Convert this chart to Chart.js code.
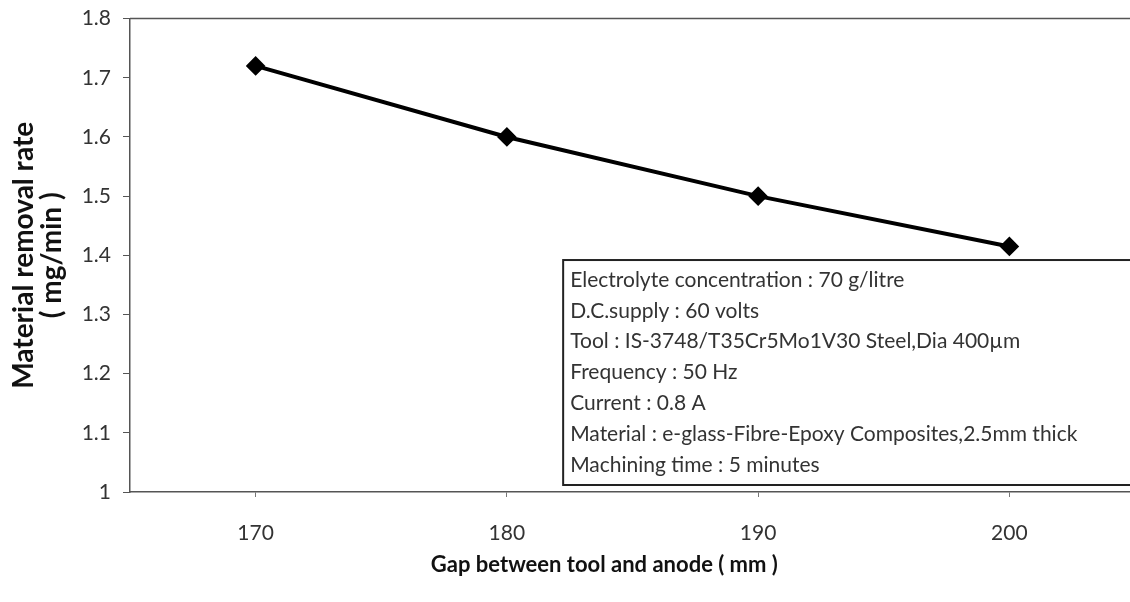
<!DOCTYPE html>
<html lang="en">
<head>
  <meta charset="UTF-8">
  <title>Material removal rate vs gap</title>
  <script src="https://cdn.jsdelivr.net/npm/chart.js"></script>
  <style>
    html, body { margin: 0; padding: 0; background: #fff; overflow: hidden; }
    #wrap { width: 1146px; height: 608px; margin-top: -6px; }
  </style>
</head>
<body>
  <div id="wrap"><canvas id="mrrChart"></canvas></div>
  <script>
    // values
    const gaps = ['170', '180', '190', '200'];
    const mrr = [1.72, 1.60, 1.50, 1.415];
    const yTicks = [1, 1.1, 1.2, 1.3, 1.4, 1.5, 1.6, 1.7, 1.8];
    const notes = [
      'Electrolyte concentration : 70 g/litre',
      'D.C.supply : 60 volts',
      'Tool : IS-3748/T35Cr5Mo1V30 Steel,Dia 400\u00b5m',
      'Frequency : 50 Hz',
      'Current : 0.8 A',
      'Material : e-glass-Fibre-Epoxy Composites,2.5mm thick',
      'Machining time : 5 minutes'
    ];
    const xTitle = 'Gap between tool and anode ( mm )';

    const FONT = 'Lato';

    // frame on top/right of the plot, conditions box, x title
    const extras = {
      id: 'extras',
      afterDraw(chart) {
        const { ctx, chartArea: a } = chart;
        const w = a.right - a.left;
        ctx.save();
        ctx.strokeStyle = '#555';
        ctx.lineWidth = 1.5;
        ctx.beginPath();
        ctx.moveTo(a.left, a.top);
        ctx.lineTo(a.right, a.top);
        ctx.lineTo(a.right, a.bottom);
        ctx.stroke();

        // conditions box
        const bx = a.left + w * 0.431;
        const by = a.top + (a.bottom - a.top) * 0.51;
        const bw = a.right - bx + 4;
        const bh = a.bottom - 7 - by;
        ctx.fillStyle = '#fff';
        ctx.fillRect(bx, by, bw, bh);
        ctx.strokeStyle = '#222';
        ctx.lineWidth = 2;
        ctx.strokeRect(bx, by, bw, bh);

        ctx.fillStyle = '#333';
        ctx.font = '21px ' + FONT;
        ctx.textBaseline = 'middle';
        ctx.textAlign = 'left';
        notes.forEach((t, i) => {
          ctx.fillText(t, bx + 7, by + 20 + i * 30.8);
        });

        // x axis title (sits a little left of the plot centre in the original)
        ctx.fillStyle = '#111';
        ctx.font = 'bold 22px ' + FONT;
        ctx.textAlign = 'center';
        ctx.fillText(xTitle, a.left + w * 0.472, a.bottom + 73);
        ctx.restore();
      }
    };

    const ctx = document.getElementById('mrrChart').getContext('2d');
    new Chart(ctx, {
      type: 'line',
      data: {
        labels: gaps,
        datasets: [{
          data: mrr,
          borderColor: '#000',
          backgroundColor: '#000',
          borderWidth: 4,
          pointStyle: 'rectRot',
          pointRadius: 7,
          pointHoverRadius: 7,
          tension: 0
        }]
      },
      options: {
        responsive: true,
        maintainAspectRatio: false,
        animation: false,
        layout: { padding: { top: 12, right: 0, left: 10, bottom: 0 } },
        plugins: {
          legend: { display: false },
          tooltip: { enabled: false }
        },
        scales: {
          x: {
            offset: true,
            grid: { drawOnChartArea: false, drawTicks: true, tickLength: 5, color: '#777', offset: false },
            border: { color: '#555', width: 1.5 },
            ticks: { color: '#333', font: { family: FONT, size: 21 }, padding: 24 },
            afterFit: s => { s.height = 110; }
          },
          y: {
            min: 1,
            max: 1.8,
            afterBuildTicks: s => { s.ticks = yTicks.map(v => ({ value: v })); },
            grid: { drawOnChartArea: false, drawTicks: true, tickLength: 7, color: '#555' },
            border: { color: '#555', width: 1.5 },
            ticks: {
              color: '#333',
              font: { family: FONT, size: 21 },
              padding: 12,
              callback: v => String(Math.round(v * 10) / 10)
            },
            title: {
              display: true,
              text: ['Material removal rate', '( mg/min )'],
              color: '#111',
              font: { family: FONT, size: 28, weight: 'bold', lineHeight: 1.0 },
              padding: { top: 0, bottom: 0 }
            },
            afterFit: s => { s.width = 120; }
          }
        }
      },
      plugins: [extras]
    });
  </script>
</body>
</html>
